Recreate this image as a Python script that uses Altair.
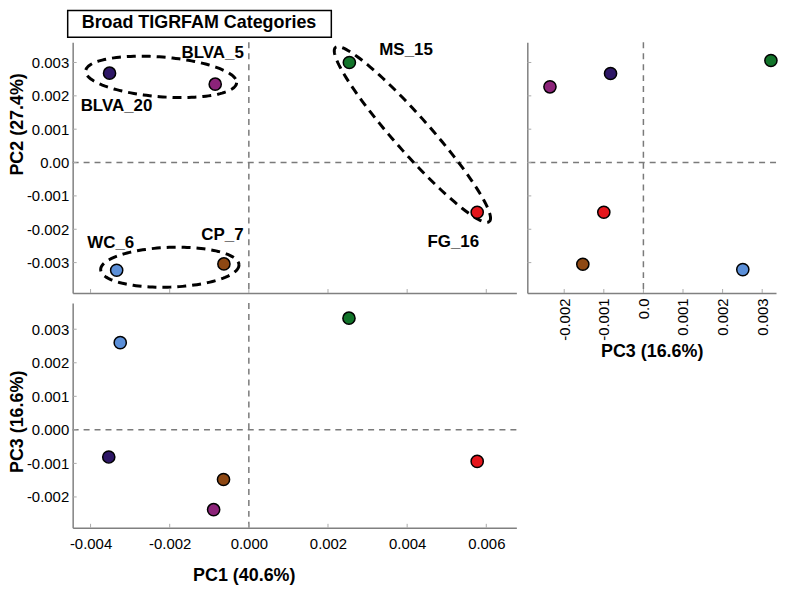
import altair as alt
import pandas as pd
import numpy as np

# ---------------- data ----------------
samples = ["BLVA_20", "BLVA_5", "MS_15", "FG_16", "WC_6", "CP_7"]
colors = ["#2e1766", "#8c2379", "#12742a", "#e5161c", "#5b8fd8", "#8e4813"]

# panel PC1 vs PC2 (top left)
tl_pc1 = [-0.00352, -0.00085, 0.00254, 0.00577, -0.00334, -0.00063]
tl_pc2 = [0.00268, 0.00235, 0.00300, -0.00149, -0.00323, -0.00304]
# panel PC3 vs PC2 (top right)
tr_pc3 = [-0.00083, -0.00236, 0.00322, -0.00100, 0.00251, -0.00153]
tr_pc2 = [0.00267, 0.00227, 0.00306, -0.00149, -0.00321, -0.00305]
# panel PC1 vs PC3 (bottom left)
bl_pc1 = [-0.00354, -0.00089, 0.00253, 0.00577, -0.00325, -0.00064]
bl_pc3 = [-0.00081, -0.00238, 0.00333, -0.00094, 0.00260, -0.00148]

ticks_pc1 = [-0.004, -0.002, 0.0, 0.002, 0.004, 0.006]
ticks_pc2 = [-0.003, -0.002, -0.001, 0.0, 0.001, 0.002, 0.003]
ticks_pc3 = [-0.002, -0.001, 0.0, 0.001, 0.002, 0.003]

# grouping ellipses (centre and semi-axis vectors, in PC1/PC2 units)
ell_names = ["BLVA", "MS_FG", "WC_CP"]
ell_c1 = [-0.002216, 0.004133, -0.001997]
ell_c2 = [0.002569, 0.000841, -0.003139]
ell_a1 = [0.001907, 0.001945, 0.001747]
ell_a2 = [-0.000179, -0.002608, 0.0000745]
ell_b1 = [-0.0000394, 0.000339, 0.000018]
ell_b2 = [-0.000594, 0.000355, -0.000596]

title_text = "Broad TIGRFAM Categories"

# ---------------- styling ----------------
FONT = "Liberation Sans"
W1, H1 = 446, 252
W2, H2 = 250, 226
ZERO_COLOR = "#7a7a7a"
TICK_COLOR = "#aaaaaa"

dom_pc1 = [-0.004452, 0.00676]
dom_pc2 = [-0.003912, 0.003605]
dom_pc3_bottom = [-0.00292, 0.003783]
dom_pc3_right = [-0.002932, 0.003349]

fmt3 = "(datum.value < 0 ? '-' : '') + format(abs(datum.value), '.3f')"

label_offsets = {
    "BLVA_5": (-2.5, -31),
    "BLVA_20": (7, 33),
    "MS_15": (57, -13),
    "FG_16": (-24, 30),
    "WC_6": (-6, -27),
    "CP_7": (-1.5, -29),
}

color_scale = alt.Scale(domain=samples, range=colors)


def make_enc(dom, axis, kind):
    def f(field):
        cls = alt.X if kind == "x" else alt.Y
        return cls(field, type="quantitative", scale=alt.Scale(domain=dom, zero=False, nice=False), axis=axis)
    return f


def panel(xs, ys, xdom, ydom, xaxis, yaxis, W, H, xticks, yticks, extra_fn=None):
    ex = make_enc(xdom, xaxis, "x")
    ey = make_enc(ydom, yaxis, "y")
    df = pd.DataFrame({"s": samples, "x": xs, "y": ys})
    zero = pd.DataFrame({"z": [0.0]})
    vz = alt.Chart(zero).mark_rule(color=ZERO_COLOR, strokeWidth=1.5, strokeDash=[6, 5]).encode(x=ex("z"))
    hz = alt.Chart(zero).mark_rule(color=ZERO_COLOR, strokeWidth=1.5, strokeDash=[6, 5]).encode(y=ey("z"))
    xt = alt.Chart(pd.DataFrame({"v": xticks})).mark_rule(color=TICK_COLOR, strokeWidth=1).encode(
        x=ex("v"), y=alt.value(H), y2=alt.value(H - 4))
    yt = alt.Chart(pd.DataFrame({"v": yticks})).mark_rule(color=TICK_COLOR, strokeWidth=1).encode(
        y=ey("v"), x=alt.value(0), x2=alt.value(4))
    pts = alt.Chart(df).mark_circle(size=150, opacity=1, stroke="black", strokeWidth=1.5).encode(
        x=ex("x"), y=ey("y"),
        fill=alt.Fill("s:N", scale=color_scale, legend=None),
    )
    layers = [vz, hz]
    if extra_fn:
        layers += extra_fn(ex, ey)
    layers += [xt, yt, pts]
    return alt.layer(*layers).properties(width=W, height=H)


# ---- ellipses, labels and title box for top-left panel ----
t = np.linspace(0, 2 * np.pi, 145)
rows = []
for k, n in enumerate(ell_names):
    for i, tt in enumerate(t):
        rows.append({
            "e": n, "i": i,
            "x": ell_c1[k] + np.cos(tt) * ell_a1[k] + np.sin(tt) * ell_b1[k],
            "y": ell_c2[k] + np.cos(tt) * ell_a2[k] + np.sin(tt) * ell_b2[k],
        })
ell_df = pd.DataFrame(rows)
lab_df = pd.DataFrame({"s": samples, "x": tl_pc1, "y": tl_pc2})
tdf = pd.DataFrame({"t": [title_text]})


def tl_extra(ex, ey):
    out = [alt.Chart(ell_df).mark_line(color="black", strokeWidth=3, strokeDash=[9, 6]).encode(
        x=ex("x"), y=ey("y"), detail="e:N", order="i:Q")]
    for s in samples:
        dx, dy = label_offsets[s]
        out.append(
            alt.Chart(lab_df).transform_filter(alt.datum.s == s).mark_text(
                font=FONT, fontSize=17, fontWeight="bold", color="black",
                align="center", baseline="middle", dx=dx, dy=dy,
            ).encode(x=ex("x"), y=ey("y"), text="s:N")
        )
    out.append(alt.Chart(tdf).mark_rect(fill="white", stroke="black", strokeWidth=1.5).encode(
        x=alt.value(-5), x2=alt.value(260), y=alt.value(-32), y2=alt.value(-5)))
    out.append(alt.Chart(tdf).mark_text(font=FONT, fontSize=18, fontWeight="bold", color="black",
                                        align="center", baseline="middle").encode(
        x=alt.value(127), y=alt.value(-19), text="t:N"))
    return out


# ---------------- panels ----------------
tl = panel(
    tl_pc1, tl_pc2, dom_pc1, dom_pc2,
    alt.Axis(values=ticks_pc1, labels=False, ticks=False, title=None),
    alt.Axis(values=ticks_pc2, ticks=False, title="PC2 (27.4%)", titleY=82, titlePadding=0,
             labelExpr="datum.value == 0 ? '0.00' : " + fmt3),
    W1, H1, ticks_pc1, ticks_pc2, extra_fn=tl_extra,
)

tr = panel(
    tr_pc3, tr_pc2, dom_pc3_right, dom_pc2,
    alt.Axis(values=ticks_pc3, ticks=False, title="PC3 (16.6%)", labelAngle=270,
             labelPadding=5, titlePadding=2,
             labelExpr="datum.value == 0 ? '0.0' : " + fmt3),
    alt.Axis(values=ticks_pc2, labels=False, ticks=False, title=None),
    W2, H1, ticks_pc3, ticks_pc2,
)

bl = panel(
    bl_pc1, bl_pc3, dom_pc1, dom_pc3_bottom,
    alt.Axis(values=ticks_pc1, ticks=False, title="PC1 (40.6%)", titleX=172,
             labelPadding=9, titlePadding=15, labelExpr=fmt3),
    alt.Axis(values=ticks_pc3, ticks=False, title="PC3 (16.6%)", titleY=119, titlePadding=0,
             labelExpr=fmt3),
    W1, H2, ticks_pc1, ticks_pc3,
)

chart = alt.concat(
    tl, tr, bl, columns=2,
    spacing={"row": 10, "column": 11},
    bounds="flush", align="each", padding=0,
).configure_view(stroke=None).configure_axis(
    domainColor="#808080", domainWidth=1.5,
    labelFont=FONT, labelFontSize=15, labelColor="black", labelPadding=4,
    titleFont=FONT, titleFontSize=18, titleFontWeight="bold", titleColor="black",
    titlePadding=2, grid=False,
)

chart.save("out.html", embed_options={"renderer": "svg", "actions": False})
